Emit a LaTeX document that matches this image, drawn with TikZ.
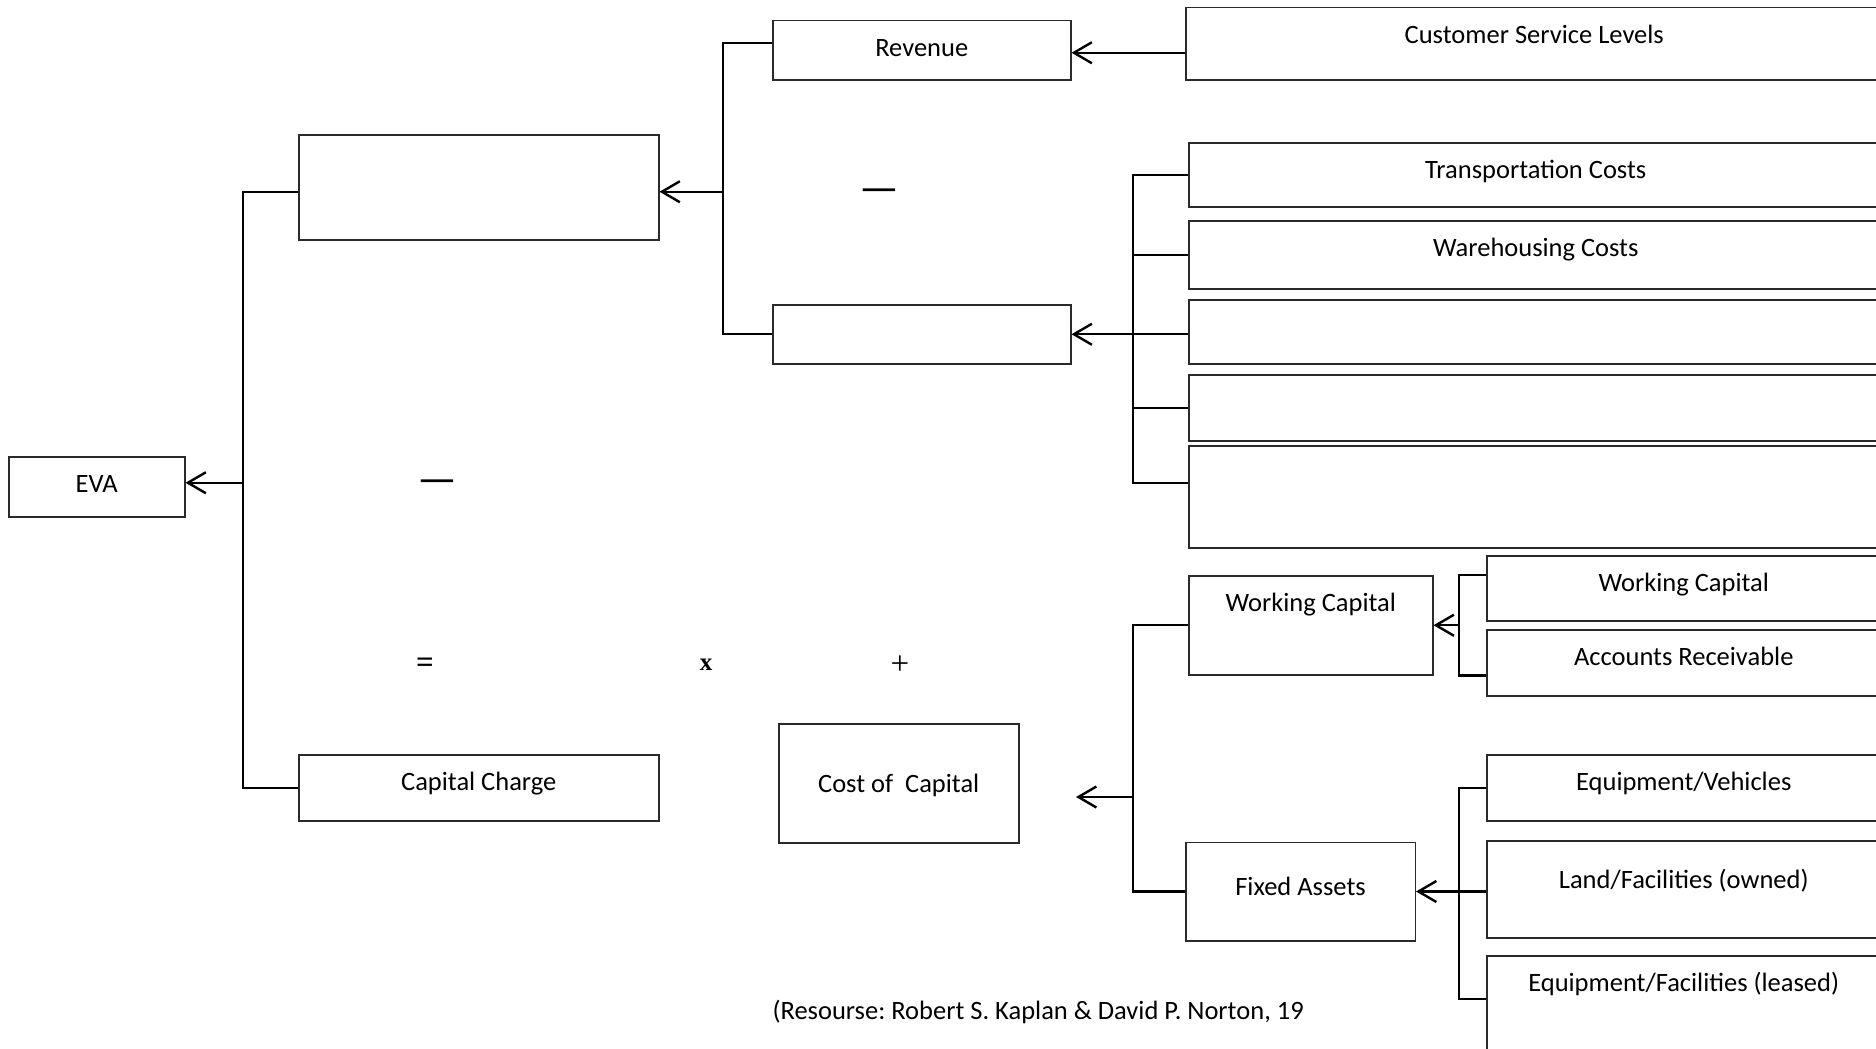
\documentclass[tikz,border=0pt]{standalone}
\usepackage{fontspec}
\setmainfont{Carlito}
\newfontfamily\signfont{Liberation Serif}
\usetikzlibrary{arrows.meta}
\definecolor{boxline}{HTML}{2A2A2A}
\newcommand\boxfont{\fontsize{26.5}{32}\selectfont}
\frenchspacing

\tikzset{
  blk/.style={draw=boxline, line width=1.5pt, inner sep=0pt, anchor=north west,
    text height=36pt, font=\boxfont},
  wire/.style={line width=2.4pt},
  arr/.style={wire, -{Straight Barb[length=18pt,width=21pt]}},
  sign/.style={font=\signfont\fontsize{33}{38}\selectfont},
  minusmark/.style={font=\fontsize{44}{50}\selectfont},
}

\begin{document}
\begin{tikzpicture}[x=1pt,y=-1pt]
  \useasboundingbox (0,0) rectangle (1876,1049);
  % left part
  \node[blk,minimum width=176pt,text depth=24pt] (eva) at (8,456) {EVA};
  \node[blk,minimum width=360pt,text depth=69pt] (op) at (298,134) {};
  \node[blk,minimum width=360pt,text depth=30pt] (cc) at (298,754) {Capital Charge};
  \node[blk,minimum width=298pt,text depth=23pt] (rev) at (772,20) {Revenue};
  \node[blk,minimum width=298pt,text depth=23pt] (cst) at (772,304) {};
  \node[blk,minimum width=240pt,text height=69pt,text depth=50pt] (coc) at (778,723) {Cost of\ \ Capital};
  % drivers
  \node[blk,minimum width=697pt,text depth=36pt] (csl) at (1185,7) {Customer Service Levels};
  \foreach \n/\y/\d/\t in {tc/142/28/Transportation Costs, wh/220/32/Warehousing Costs,
      x3/299/28/, x4/374/30/, x5/445/66/}
    \node[blk,minimum width=694pt,text depth=\d pt] (\n) at (1188,\y) {\t};
  \node[blk,minimum width=244pt,text depth=63pt] (wc) at (1188,575) {Working Capital};
  \node[blk,minimum width=229.5pt,text height=53pt,text depth=45.5pt] (fa) at (1185,841.5) {Fixed Assets};
  \node[blk,minimum width=394pt,text depth=29pt] (wcs) at (1486,555) {Working Capital};
  \node[blk,minimum width=394pt,text depth=30pt] (ar) at (1486,629) {Accounts Receivable};
  \node[blk,minimum width=394pt,text depth=30pt] (eqv) at (1486,754) {Equipment/Vehicles};
  \node[blk,minimum width=394pt,text height=48pt,text depth=49pt] (land) at (1486,840) {Land/Facilities (owned)};
  \node[blk,minimum width=394pt,text depth=114pt] (eqf) at (1486,955) {Equipment/Facilities (leased)};
  % operators
  \node[minusmark] (m1) at (879,196) {—};
  \node[minusmark] (m2) at (437,487) {—};
  \node[font=\signfont\bfseries\fontsize{31}{36}\selectfont] (eq) at (425,665) {=};
  \node[font=\signfont\bfseries\fontsize{25}{30}\selectfont] (times) at (706,665) {x};
  \node[sign] (plus) at (900,665) {+};
  \node[anchor=base west,font=\boxfont] (src) at (769,1019.5) {(Resourse: Robert S. Kaplan \& David P. Norton, 19};

  % connectors
  \coordinate (busA) at (243,0);
  \coordinate (busB) at (723,0);
  \coordinate (busC) at (1133,0);
  \coordinate (busE) at (1459,0);
  \coordinate (optap) at ([yshift=-4.5pt]op.west);
  \coordinate (opin) at ([yshift=-4.5pt]op.east);
  \coordinate (evain) at ([yshift=4pt]eva.east);
  \coordinate (revin) at ([yshift=-2.5pt]rev.east);
  \coordinate (x5tap) at ([yshift=14pt]x5.west);
  \coordinate (eqftap) at ([yshift=-44pt]eqf.north west);
  \coordinate (cocin) at (1076,797);

  \draw[wire] (optap) -| (busA |- cc.west) -- (cc.west);
  \draw[arr] (busA |- evain) -- (evain);

  \draw[wire] ([yshift=7.5pt]rev.west) -| (busB |- cst.west) -- (cst.west);
  \draw[arr] (busB |- opin) -- (opin);
  \draw[arr] (csl.west |- revin) -- (revin);

  \draw[wire] (tc.west) -| (busC |- x5tap) -- (x5tap);
  \foreach \n in {wh,x4}
    \draw[wire] (busC |- \n.west) -- (\n.west);
  \draw[arr] (x3.west |- cst.east) -- (cst.east);

  \draw[wire] (wc.west) -| (busC |- fa.west) -- (fa.west);
  \draw[arr] (busC |- cocin) -- (cocin);

  \draw[wire] (wcs.west |- wc.north) -| (busE |- wc.south) -- (ar.west |- wc.south);
  \draw[arr] (busE |- wc.east) -- (wc.east);

  \draw[wire] (eqv.west) -| (busE |- eqftap) -- (eqftap);
  \draw[arr] (land.west |- fa.east) -- (fa.east);
\end{tikzpicture}
\end{document}
